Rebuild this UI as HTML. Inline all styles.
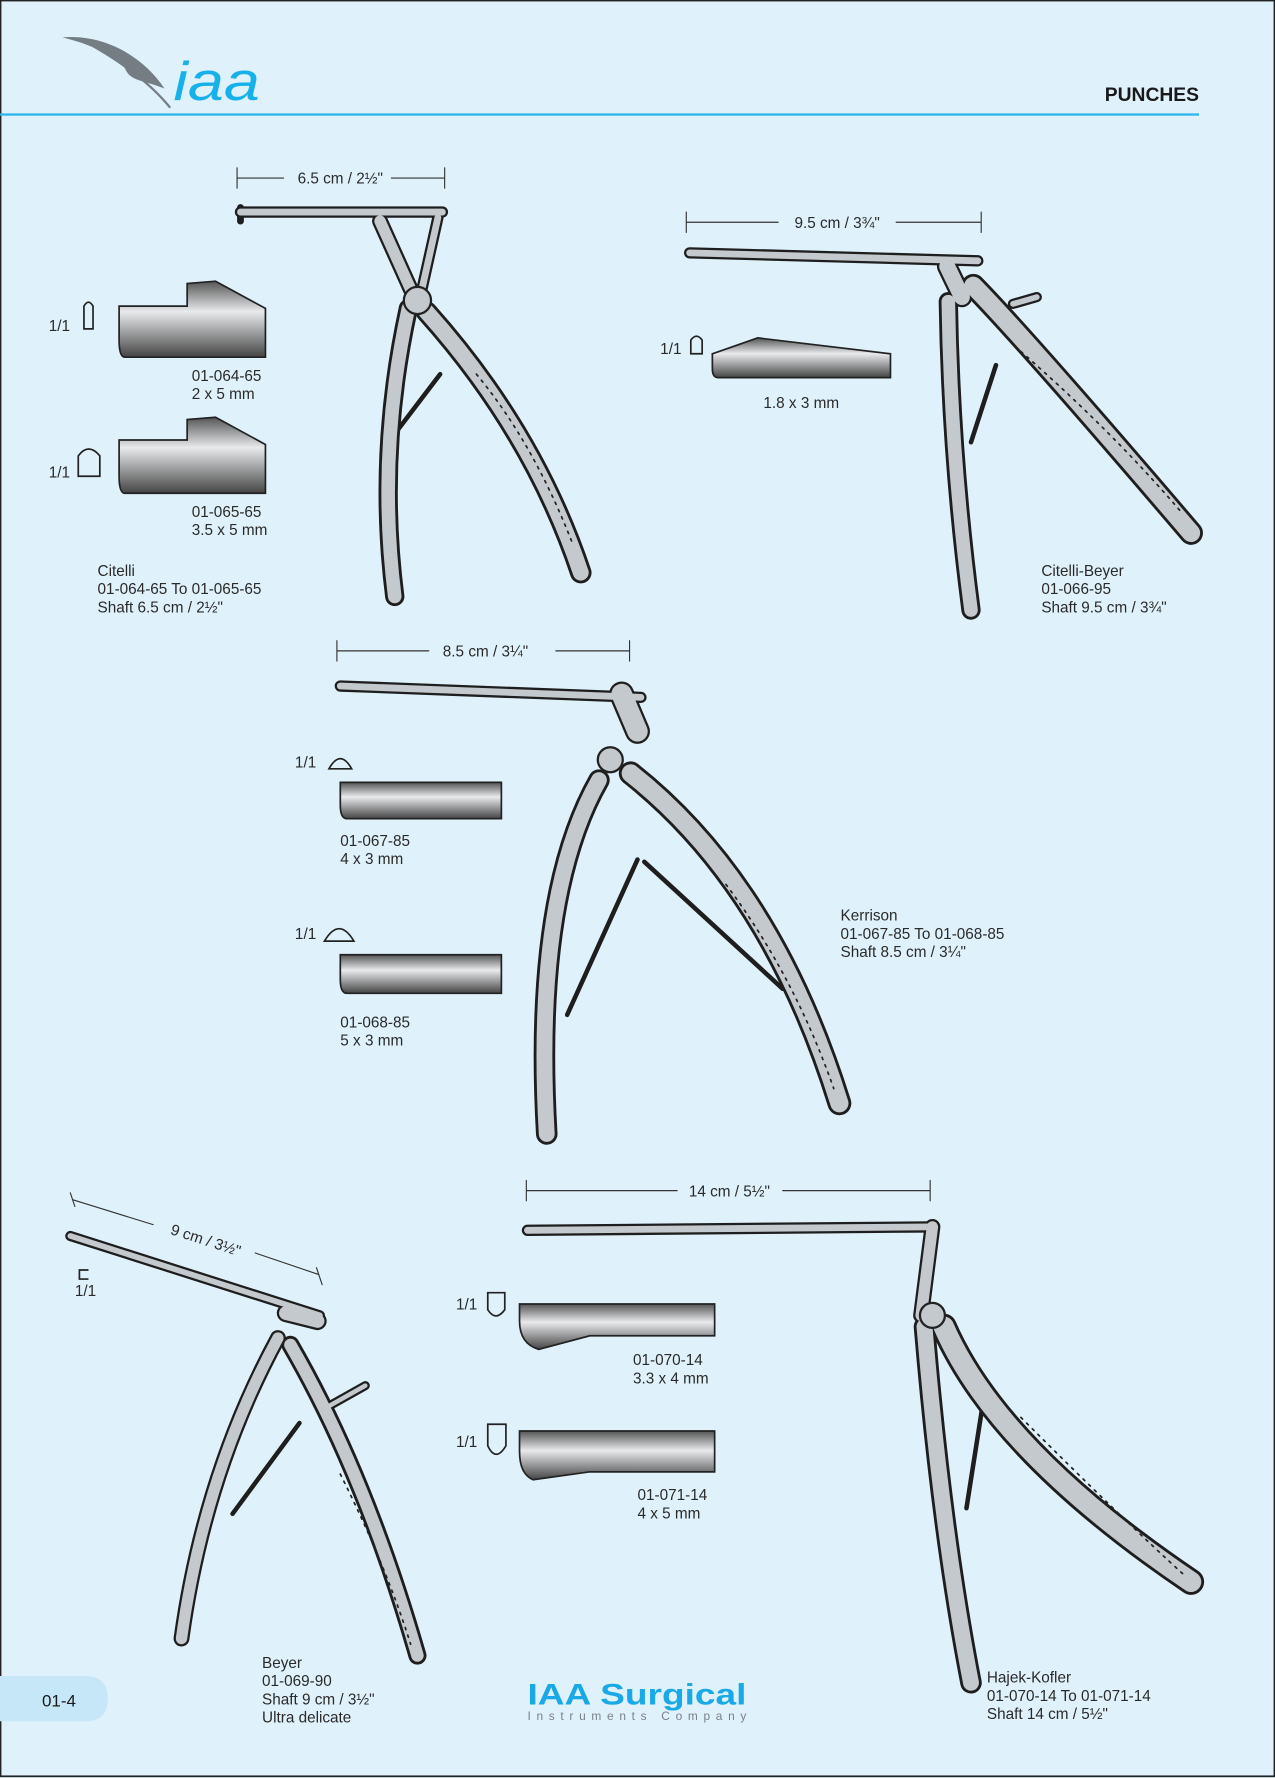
<!DOCTYPE html>
<html><head><meta charset="utf-8"><style>
html,body{margin:0;padding:0;background:#dff1fb;}
svg{display:block;}
text{font-family:"Liberation Sans",sans-serif;fill:#2a2a2a;}
.t{font-size:13.5px;}
</style></head><body>
<svg width="1275" height="1778" viewBox="0 0 1124 1568" preserveAspectRatio="none" xmlns="http://www.w3.org/2000/svg">
<defs>
<linearGradient id="d" x1="0" y1="0" x2="0" y2="1">
<stop offset="0" stop-color="#555"/><stop offset="0.4" stop-color="#e8eaec"/><stop offset="1" stop-color="#444"/>
</linearGradient>
</defs>
<rect x="0" y="0" width="1124" height="1568" fill="#dff1fb"/>
<rect x="0.5" y="0.5" width="1123" height="1566" fill="none" stroke="#222" stroke-width="1.5"/>

<path d="M55,33 C90,30 125,48 145,78 C125,70 115,72 110,60 C95,45 75,38 55,33 Z" fill="#747c84"/>
<path d="M70,34 C100,50 130,70 150,95" stroke="#747c84" stroke-width="2" fill="none"/>
<text x="153" y="88" textLength="76" lengthAdjust="spacingAndGlyphs" style="font-size:48px;font-style:italic;fill:#16b0ea;">iaa</text>
<rect x="0" y="100" width="1057" height="2" fill="#2bb5ea"/>
<text x="1057" y="89" text-anchor="end" style="font-size:17px;font-weight:bold;fill:#1a1a1a;">PUNCHES</text>

<g fill="none" stroke-linecap="round">
<g stroke="#333" stroke-width="1">
<path d="M209,148V166M209,157H250M345,157H392M392,148V166"/>
<path d="M605,187V205M605,196H686M790,196H865M865,187V205"/>
<path d="M297,565V583M297,574H378M490,574H555M555,565V583"/>
<path d="M464,1041V1059M464,1050H597M690,1050H820M820,1041V1059"/>
<path d="M62,1052L66,1064M64,1058L135,1080M225,1105L281,1124M279,1118L284,1133"/>
</g>
</g>
<text x="300" y="162" text-anchor="middle" class="t">6.5 cm / 2½"</text>
<text x="738" y="201" text-anchor="middle" class="t">9.5 cm / 3¾"</text>
<text x="428" y="579" text-anchor="middle" class="t">8.5 cm / 3¼"</text>
<text x="643" y="1055" text-anchor="middle" class="t">14 cm / 5½"</text>
<text x="180" y="1098" text-anchor="middle" class="t" transform="rotate(18 180 1098)">9 cm / 3½"</text>

<g fill="none" stroke-linecap="round" stroke-linejoin="round">
<g stroke="#1e1e1e">
<path d="M212,187L390,187" stroke-width="10"/><path d="M212,183V195" stroke-width="6"/>
<path d="M335,195L362,255" stroke-width="14"/><path d="M386,192L372,255" stroke-width="10"/>
<path d="M360,272Q332,400 348,526" stroke-width="17"/><path d="M376,275Q470,380 512,505" stroke-width="19"/>
<path d="M350,380L388,330" stroke-width="4"/>
<path d="M608,223L862,230" stroke-width="10"/><path d="M835,235L848,262" stroke-width="18"/>
<path d="M836,266Q838,400 856,538" stroke-width="17"/><path d="M858,252Q905,300 1050,470" stroke-width="21"/>
<path d="M893,268L914,262" stroke-width="9"/><path d="M856,390L878,322" stroke-width="4"/>
<path d="M300,605L565,615" stroke-width="10"/><path d="M548,612L562,645" stroke-width="22"/>
<path d="M528,688Q470,790 482,1000" stroke-width="19"/><path d="M556,682Q680,780 740,973" stroke-width="21"/>
<path d="M500,895L562,758M568,760L690,872" stroke-width="4"/>
<path d="M62,1090L282,1160" stroke-width="9"/><path d="M252,1158L280,1165" stroke-width="16"/>
<path d="M245,1180Q180,1300 160,1445" stroke-width="14"/><path d="M256,1186Q322,1300 368,1460" stroke-width="16"/>
<path d="M290,1240L322,1222" stroke-width="8"/><path d="M205,1335L264,1255" stroke-width="4"/>
<path d="M465,1085L820,1082" stroke-width="10"/><path d="M822,1082L812,1160" stroke-width="14"/>
<path d="M815,1170Q830,1350 856,1484" stroke-width="19"/><path d="M832,1170Q880,1280 1050,1395" stroke-width="23"/>
<path d="M852,1330L868,1228" stroke-width="4"/>
</g>
<g stroke="#c4c9cd">
<path d="M212,187L390,187" stroke-width="6"/>
<path d="M335,195L362,255" stroke-width="10"/><path d="M386,192L372,255" stroke-width="6"/>
<path d="M360,272Q332,400 348,526" stroke-width="12"/><path d="M376,275Q470,380 512,505" stroke-width="14"/>
<path d="M608,223L862,230" stroke-width="6"/><path d="M835,235L848,262" stroke-width="14"/>
<path d="M836,266Q838,400 856,538" stroke-width="12"/><path d="M858,252Q905,300 1050,470" stroke-width="16"/>
<path d="M893,268L914,262" stroke-width="5"/>
<path d="M300,605L565,615" stroke-width="6"/><path d="M548,612L562,645" stroke-width="18"/>
<path d="M528,688Q470,790 482,1000" stroke-width="14"/><path d="M556,682Q680,780 740,973" stroke-width="16"/>
<path d="M62,1090L282,1160" stroke-width="5"/><path d="M252,1158L280,1165" stroke-width="12"/>
<path d="M245,1180Q180,1300 160,1445" stroke-width="10"/><path d="M256,1186Q322,1300 368,1460" stroke-width="11"/>
<path d="M290,1240L322,1222" stroke-width="4"/>
<path d="M465,1085L820,1082" stroke-width="6"/><path d="M822,1082L812,1160" stroke-width="10"/>
<path d="M815,1170Q830,1350 856,1484" stroke-width="14"/><path d="M832,1170Q880,1280 1050,1395" stroke-width="18"/>
</g>
<g stroke="#222" stroke-width="1.5" stroke-dasharray="2 5">
<path d="M420,330Q470,390 505,480"/><path d="M900,310Q980,380 1040,450"/><path d="M640,780Q700,860 735,960"/>
<path d="M300,1300Q340,1380 362,1450"/><path d="M900,1250Q990,1340 1045,1390"/>
</g>
</g>
<g fill="#c4c9cd" stroke="#222" stroke-width="2">
<circle cx="368" cy="265" r="12"/><circle cx="538" cy="670" r="11"/><circle cx="822" cy="1160" r="11"/>
</g>

<g stroke="#222" stroke-width="1.5">
<path d="M105,270H165V250L190,248L234,272V315H110Q105,315 105,300Z" fill="url(#d)"/>
<path d="M105,388H165V370L190,368L234,392V435H110Q105,435 105,420Z" fill="url(#d)"/>
<path d="M628,312L668,298L785,312V333H633Q628,333 628,325Z" fill="url(#d)"/>
<path d="M300,690H442V722H306Q300,722 300,710Z" fill="url(#d)"/>
<path d="M300,842H442V876H306Q300,876 300,864Z" fill="url(#d)"/>
<path d="M458,1150H630V1178H520L475,1190Q458,1185 458,1165Z" fill="url(#d)"/>
<path d="M458,1262H630V1298H520L470,1305Q458,1300 458,1280Z" fill="url(#d)"/>
<g fill="none">
<path d="M74,290V270Q78,263 82,270V290Z"/><path d="M69,420V402Q78,390 88,402V420Z"/>
<path d="M609,312V300Q614,293 619,300V312Z"/><path d="M290,678Q300,660 310,678Z"/>
<path d="M286,830Q299,808 312,830Z"/><path d="M430,1140V1155Q437,1166 445,1155V1140Z"/>
<path d="M430,1256V1275Q437,1290 446,1275V1256Z"/><path d="M78,1120H70V1128H78"/>
</g>
</g>

<g class="t">
<text x="43" y="292" class="t">1/1</text>
<text x="169" y="336" class="t">01-064-65</text><text x="169" y="352" class="t">2 x 5 mm</text>
<text x="43" y="421" class="t">1/1</text>
<text x="169" y="456" class="t">01-065-65</text><text x="169" y="472" class="t">3.5 x 5 mm</text>
<text x="86" y="508" class="t">Citelli</text><text x="86" y="524" class="t">01-064-65 To 01-065-65</text><text x="86" y="540" class="t">Shaft 6.5 cm / 2½"</text>
<text x="582" y="312" class="t">1/1</text><text x="673" y="360" class="t">1.8 x 3 mm</text>
<text x="918" y="508" class="t">Citelli-Beyer</text><text x="918" y="524" class="t">01-066-95</text><text x="918" y="540" class="t">Shaft 9.5 cm / 3¾"</text>
<text x="260" y="677" class="t">1/1</text><text x="300" y="746" class="t">01-067-85</text><text x="300" y="762" class="t">4 x 3 mm</text>
<text x="260" y="828" class="t">1/1</text><text x="300" y="906" class="t">01-068-85</text><text x="300" y="922" class="t">5 x 3 mm</text>
<text x="741" y="812" class="t">Kerrison</text><text x="741" y="828" class="t">01-067-85 To 01-068-85</text><text x="741" y="844" class="t">Shaft 8.5 cm / 3¼"</text>
<text x="66" y="1143" class="t">1/1</text>
<text x="402" y="1155" class="t">1/1</text><text x="558" y="1204" class="t">01-070-14</text><text x="558" y="1220" class="t">3.3 x 4 mm</text>
<text x="402" y="1276" class="t">1/1</text><text x="562" y="1323" class="t">01-071-14</text><text x="562" y="1339" class="t">4 x 5 mm</text>
<text x="231" y="1471" class="t">Beyer</text><text x="231" y="1487" class="t">01-069-90</text><text x="231" y="1503" class="t">Shaft 9 cm / 3½"</text><text x="231" y="1519" class="t">Ultra delicate</text>
<text x="870" y="1484" class="t">Hajek-Kofler</text><text x="870" y="1500" class="t">01-070-14 To 01-071-14</text><text x="870" y="1516" class="t">Shaft 14 cm / 5½"</text>
</g>

<path d="M0,1478H75Q95,1478 95,1498Q95,1518 75,1518H0Z" fill="#c6e7f8"/>
<text x="52" y="1505" text-anchor="middle" style="font-size:15px;fill:#1a1a1a;">01-4</text>
<text x="465" y="1503" textLength="193" lengthAdjust="spacingAndGlyphs" style="font-size:26px;font-weight:bold;fill:#19a9e6;">IAA Surgical</text>
<text x="465" y="1517" textLength="193" style="font-size:10.5px;fill:#7a8088;">Instruments Company</text>
</svg>
</body></html>
